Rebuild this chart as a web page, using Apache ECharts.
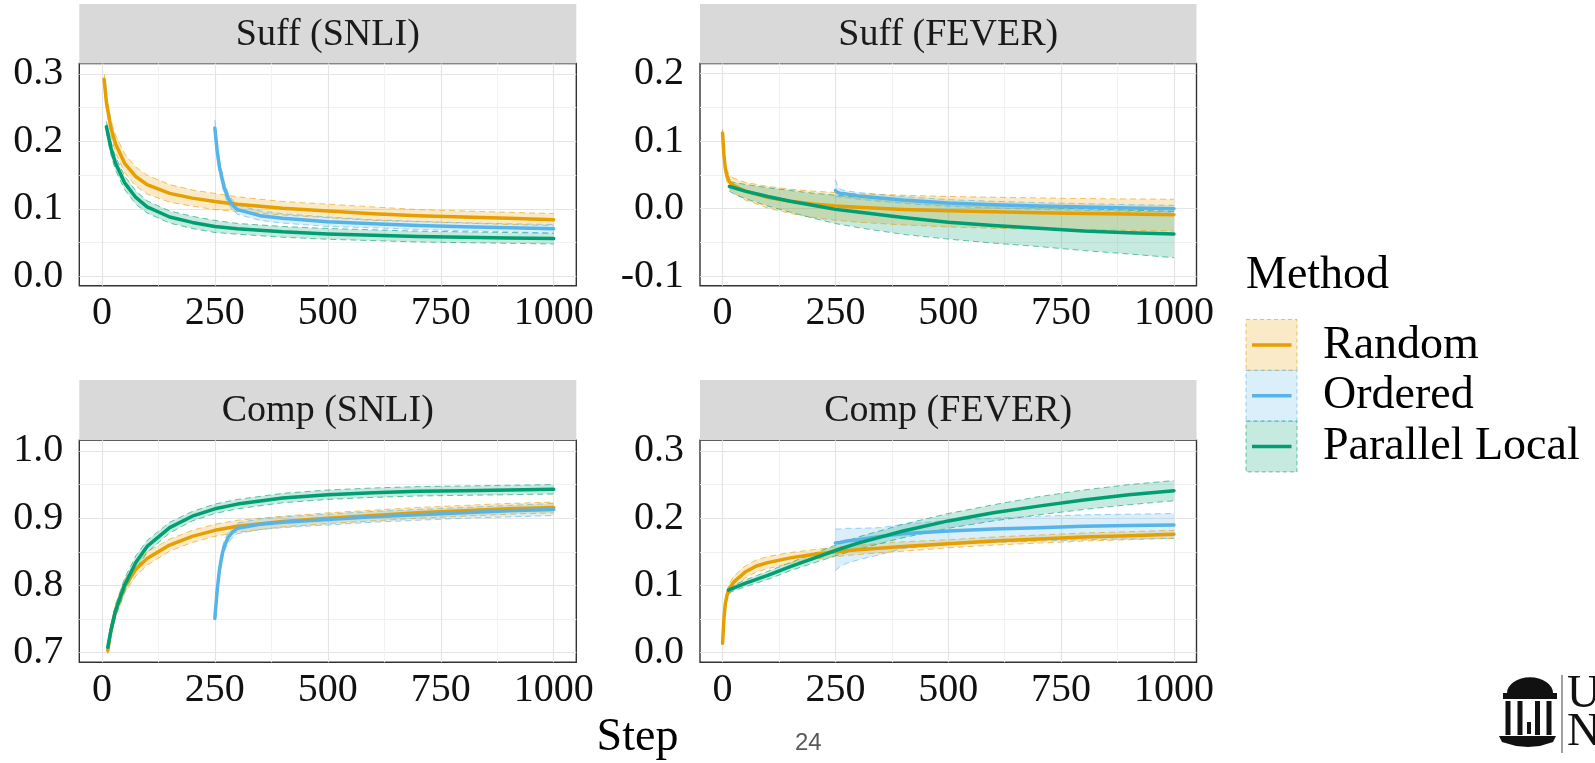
<!DOCTYPE html>
<html><head><meta charset="utf-8">
<script src="https://cdn.jsdelivr.net/npm/echarts@6/dist/echarts.min.js"></script>
<style>html,body{margin:0;padding:0;background:#fff}#c{width:1595px;height:763px}</style>
</head><body><div id="c"></div>
<script>
// ---------- tick labels ----------
const xTicks = [0, 250, 500, 750, 1000];
const xMinorTicks = [125, 375, 625, 875];
const suffSnliYTicks = [0, 0.1, 0.2, 0.3];
const suffSnliYMinor = [0.05, 0.15, 0.25];
const suffFeverYTicks = [-0.1, 0, 0.1, 0.2];
const suffFeverYMinor = [-0.05, 0.05, 0.15];
const compSnliYTicks = [0.7, 0.8, 0.9, 1.0];
const compSnliYMinor = [0.75, 0.85, 0.95];
const compFeverYTicks = [0, 0.1, 0.2, 0.3];
const compFeverYMinor = [0.05, 0.15, 0.25];
const methods = ['Random', 'Ordered', 'Parallel Local'];
const panelTitles = ['Suff (SNLI)', 'Suff (FEVER)', 'Comp (SNLI)', 'Comp (FEVER)'];

// ---------- Suff (SNLI) ----------
const suffSnliRandomSteps = [5,10,20,30,50,75,100,150,200,250,300,400,500,600,700,800,900,1000];
const suffSnliRandomMean  = [0.292,0.258,0.220,0.197,0.168,0.148,0.136,0.123,0.116,0.111,0.107,0.101,0.097,0.093,0.090,0.088,0.086,0.084];
const suffSnliRandomUpper = [0.300,0.268,0.232,0.210,0.182,0.162,0.150,0.136,0.128,0.123,0.118,0.111,0.107,0.103,0.099,0.097,0.095,0.093];
const suffSnliRandomLower = [0.284,0.248,0.208,0.184,0.154,0.134,0.122,0.110,0.104,0.099,0.096,0.091,0.087,0.083,0.081,0.079,0.077,0.075];
const suffSnliOrderedSteps = [250,255,260,270,280,290,300,350,400,500,600,700,800,900,1000];
const suffSnliOrderedMean  = [0.220,0.187,0.163,0.133,0.115,0.105,0.099,0.090,0.086,0.081,0.078,0.0755,0.0735,0.072,0.0705];
const suffSnliOrderedUpper = [0.232,0.198,0.173,0.142,0.123,0.112,0.106,0.097,0.093,0.088,0.084,0.0815,0.0795,0.078,0.077];
const suffSnliOrderedLower = [0.208,0.176,0.153,0.124,0.107,0.098,0.092,0.083,0.079,0.074,0.072,0.0695,0.0675,0.066,0.064];
const suffSnliParallelSteps = [10,20,30,50,75,100,150,200,250,300,400,500,600,700,800,900,1000];
const suffSnliParallelMean  = [0.222,0.190,0.168,0.139,0.117,0.103,0.088,0.080,0.074,0.0705,0.066,0.063,0.061,0.059,0.058,0.057,0.056];
const suffSnliParallelUpper = [0.230,0.200,0.178,0.149,0.127,0.112,0.097,0.089,0.083,0.0785,0.074,0.071,0.069,0.067,0.066,0.065,0.064];
const suffSnliParallelLower = [0.214,0.180,0.158,0.129,0.107,0.094,0.079,0.071,0.065,0.0625,0.058,0.055,0.053,0.051,0.050,0.049,0.048];

// ---------- Suff (FEVER) ----------
const suffFeverRandomSteps = [0,3,6,10,15,25,50,100,150,200,250,300,400,500,600,700,800,900,1000];
const suffFeverRandomMean  = [0.112,0.080,0.060,0.048,0.040,0.034,0.026,0.017,0.011,0.007,0.004,0.002,-0.001,-0.003,-0.0045,-0.006,-0.007,-0.008,-0.009];
const suffFeverRandomUpper = [0.118,0.088,0.068,0.057,0.050,0.045,0.039,0.033,0.029,0.026,0.024,0.022,0.020,0.018,0.017,0.016,0.015,0.0145,0.014];
const suffFeverRandomLower = [0.106,0.072,0.052,0.039,0.030,0.023,0.013,0.001,-0.007,-0.013,-0.017,-0.020,-0.024,-0.027,-0.029,-0.0305,-0.031,-0.032,-0.033];
const suffFeverOrderedSteps = [250,255,260,270,300,350,400,500,600,700,800,900,1000];
const suffFeverOrderedMean  = [0.027,0.024,0.023,0.022,0.019,0.016,0.013,0.0085,0.006,0.004,0.0025,0.0012,0.000];
const suffFeverOrderedUpper = [0.043,0.033,0.029,0.027,0.024,0.021,0.018,0.0135,0.011,0.009,0.0075,0.006,0.005];
const suffFeverOrderedLower = [0.017,0.018,0.017,0.017,0.014,0.011,0.008,0.0035,0.001,-0.001,-0.0025,-0.0038,-0.005];
const suffFeverParallelSteps = [15,25,50,100,150,200,250,300,400,500,600,700,800,900,1000];
const suffFeverParallelMean  = [0.033,0.031,0.026,0.018,0.011,0.005,-0.001,-0.005,-0.013,-0.020,-0.025,-0.029,-0.033,-0.0355,-0.0375];
const suffFeverParallelUpper = [0.040,0.039,0.036,0.031,0.027,0.023,0.020,0.017,0.012,0.008,0.005,0.002,0.000,-0.002,-0.004];
const suffFeverParallelLower = [0.026,0.022,0.015,0.004,-0.005,-0.014,-0.022,-0.028,-0.038,-0.045,-0.051,-0.056,-0.062,-0.067,-0.0725];

// ---------- Comp (SNLI) ----------
const compSnliRandomSteps = [13,20,30,50,75,100,150,200,250,300,400,500,600,700,800,900,1000];
const compSnliRandomMean  = [0.703,0.733,0.762,0.798,0.824,0.840,0.860,0.873,0.882,0.888,0.895,0.900,0.904,0.908,0.911,0.914,0.916];
const compSnliRandomUpper = [0.708,0.741,0.771,0.808,0.834,0.850,0.869,0.882,0.891,0.897,0.903,0.908,0.912,0.916,0.919,0.922,0.924];
const compSnliRandomLower = [0.698,0.725,0.753,0.788,0.814,0.830,0.851,0.864,0.873,0.879,0.887,0.892,0.896,0.900,0.903,0.906,0.908];
const compSnliOrderedSteps = [250,255,260,265,270,280,290,300,350,400,500,600,700,800,900,1000];
const compSnliOrderedMean  = [0.751,0.792,0.822,0.842,0.857,0.872,0.880,0.885,0.891,0.894,0.898,0.902,0.905,0.908,0.911,0.913];
const compSnliOrderedUpper = [0.753,0.797,0.829,0.850,0.865,0.880,0.888,0.893,0.899,0.902,0.906,0.910,0.913,0.916,0.919,0.922];
const compSnliOrderedLower = [0.749,0.787,0.815,0.834,0.849,0.864,0.872,0.877,0.883,0.886,0.890,0.894,0.897,0.900,0.902,0.904];
const compSnliParallelSteps = [13,20,30,50,75,100,150,200,250,300,400,500,600,700,800,900,1000];
const compSnliParallelMean  = [0.708,0.733,0.762,0.800,0.834,0.858,0.886,0.903,0.914,0.921,0.930,0.935,0.938,0.940,0.941,0.942,0.943];
const compSnliParallelUpper = [0.714,0.741,0.771,0.810,0.844,0.867,0.894,0.910,0.921,0.928,0.937,0.942,0.945,0.947,0.948,0.949,0.950];
const compSnliParallelLower = [0.702,0.725,0.753,0.790,0.824,0.849,0.878,0.896,0.907,0.914,0.923,0.928,0.931,0.933,0.934,0.935,0.936];

// ---------- Comp (FEVER) ----------
const compFeverRandomSteps = [0,3,6,10,15,25,50,75,100,150,200,250,300,400,500,600,700,800,900,1000];
const compFeverRandomMean  = [0.014,0.050,0.072,0.086,0.095,0.105,0.120,0.129,0.134,0.141,0.146,0.150,0.153,0.158,0.162,0.166,0.169,0.172,0.174,0.176];
const compFeverRandomUpper = [0.016,0.055,0.078,0.093,0.103,0.114,0.129,0.138,0.143,0.149,0.153,0.157,0.160,0.165,0.168,0.172,0.175,0.178,0.180,0.182];
const compFeverRandomLower = [0.012,0.045,0.066,0.079,0.087,0.096,0.111,0.120,0.125,0.133,0.139,0.143,0.146,0.151,0.156,0.160,0.163,0.166,0.168,0.170];
const compFeverOrderedSteps = [250,260,275,300,350,400,500,600,700,800,900,1000];
const compFeverOrderedMean  = [0.163,0.164,0.166,0.168,0.173,0.177,0.181,0.184,0.186,0.188,0.189,0.190];
const compFeverOrderedUpper = [0.184,0.184,0.185,0.185,0.186,0.191,0.197,0.200,0.203,0.205,0.206,0.207];
const compFeverOrderedLower = [0.122,0.128,0.133,0.138,0.146,0.155,0.161,0.164,0.166,0.168,0.169,0.170];
const compFeverParallelSteps = [13,50,100,150,200,250,300,400,500,600,700,800,900,1000];
const compFeverParallelMean  = [0.093,0.103,0.115,0.128,0.140,0.152,0.163,0.181,0.196,0.208,0.218,0.227,0.235,0.241];
const compFeverParallelUpper = [0.097,0.108,0.121,0.134,0.147,0.160,0.172,0.191,0.207,0.220,0.232,0.242,0.250,0.256];
const compFeverParallelLower = [0.089,0.098,0.109,0.122,0.133,0.144,0.154,0.171,0.185,0.196,0.205,0.213,0.220,0.226];

// ---------- assembly ----------
const SERIF = '"Liberation Serif","Times New Roman",serif';
const lineColor = {'Random':'#E69F00','Ordered':'#56B4E9','Parallel Local':'#009E73'};
const bandColor = {'Random':'rgba(230,159,0,0.22)','Ordered':'rgba(86,180,233,0.22)','Parallel Local':'rgba(0,158,115,0.22)'};
const edgeColor = {'Random':'rgba(230,159,0,0.6)','Ordered':'rgba(86,180,233,0.6)','Parallel Local':'rgba(0,158,115,0.6)'};

const panelData = [
  {yTicks:suffSnliYTicks, yMinor:suffSnliYMinor, curves:[
    [suffSnliRandomSteps,suffSnliRandomMean,suffSnliRandomLower,suffSnliRandomUpper],
    [suffSnliOrderedSteps,suffSnliOrderedMean,suffSnliOrderedLower,suffSnliOrderedUpper],
    [suffSnliParallelSteps,suffSnliParallelMean,suffSnliParallelLower,suffSnliParallelUpper]]},
  {yTicks:suffFeverYTicks, yMinor:suffFeverYMinor, curves:[
    [suffFeverRandomSteps,suffFeverRandomMean,suffFeverRandomLower,suffFeverRandomUpper],
    [suffFeverOrderedSteps,suffFeverOrderedMean,suffFeverOrderedLower,suffFeverOrderedUpper],
    [suffFeverParallelSteps,suffFeverParallelMean,suffFeverParallelLower,suffFeverParallelUpper]]},
  {yTicks:compSnliYTicks, yMinor:compSnliYMinor, curves:[
    [compSnliRandomSteps,compSnliRandomMean,compSnliRandomLower,compSnliRandomUpper],
    [compSnliOrderedSteps,compSnliOrderedMean,compSnliOrderedLower,compSnliOrderedUpper],
    [compSnliParallelSteps,compSnliParallelMean,compSnliParallelLower,compSnliParallelUpper]]},
  {yTicks:compFeverYTicks, yMinor:compFeverYMinor, curves:[
    [compFeverRandomSteps,compFeverRandomMean,compFeverRandomLower,compFeverRandomUpper],
    [compFeverOrderedSteps,compFeverOrderedMean,compFeverOrderedLower,compFeverOrderedUpper],
    [compFeverParallelSteps,compFeverParallelMean,compFeverParallelLower,compFeverParallelUpper]]}
];

// layout (pixels)
const layout = [
  {left:79.3, top:63.5, width:497, height:222.2, yMin:-0.0138, yMax:0.3155, stripTop:4},
  {left:700,  top:63.5, width:496.5, height:222.2, yMin:-0.1140, yMax:0.2150, stripTop:4},
  {left:79.3, top:440.3, width:497, height:222, yMin:0.6857, yMax:1.0159, stripTop:380},
  {left:700,  top:440.3, width:496.5, height:222, yMin:-0.0143, yMax:0.3159, stripTop:380}
];

const grids = [], xAxes = [], yAxes = [], series = [], graphics = [];
const tickFont = {fontFamily:SERIF, fontSize:40, color:'#111111'};

layout.forEach((L, i) => {
  const P = panelData[i];
  grids.push({left:L.left, top:L.top, width:L.width, height:L.height, show:true,
    borderColor:'#333333', borderWidth:1.4, backgroundColor:'#ffffff', containLabel:false});
  xAxes.push({gridIndex:i, type:'value', min:-50, max:1050, position:'bottom',
    axisLine:{show:false}, axisTick:{show:false, customValues:xTicks},
    axisLabel:Object.assign({customValues:xTicks, margin:8, formatter:v=>String(v)}, tickFont),
    splitLine:{show:true, lineStyle:{color:'#E4E4E4', width:1.2}}});
  xAxes.push({gridIndex:i, type:'value', min:-50, max:1050, position:'top',
    axisLine:{show:false}, axisTick:{show:false, customValues:xMinorTicks},
    axisLabel:{show:false, customValues:xMinorTicks},
    splitLine:{show:true, lineStyle:{color:'#F1F1F1', width:1}}});
  yAxes.push({gridIndex:i, type:'value', min:L.yMin, max:L.yMax, position:'left',
    axisLine:{show:false}, axisTick:{show:false, customValues:P.yTicks},
    axisLabel:Object.assign({customValues:P.yTicks, margin:16, formatter:v=>v.toFixed(1)}, tickFont),
    splitLine:{show:true, lineStyle:{color:'#E4E4E4', width:1.2}}});
  yAxes.push({gridIndex:i, type:'value', min:L.yMin, max:L.yMax, position:'right',
    axisLine:{show:false}, axisTick:{show:false, customValues:P.yMinor},
    axisLabel:{show:false, customValues:P.yMinor},
    splitLine:{show:true, lineStyle:{color:'#F1F1F1', width:1}}});

  P.curves.forEach((c, m) => {
    const name = methods[m];
    const [steps, mean, lower, upper] = c;
    series.push({
      type:'custom', name:name, xAxisIndex:2*i, yAxisIndex:2*i, z:1, silent:true, clip:true,
      data: steps.map((s,k)=>[s, lower[k], upper[k]]),
      encode:{x:0, y:[1,2]},
      renderItem: function(params, api){
        if (params.dataIndex !== 0) return null;
        const pts = [];
        for (let k=0;k<steps.length;k++) pts.push(api.coord([steps[k], upper[k]]));
        for (let k=steps.length-1;k>=0;k--) pts.push(api.coord([steps[k], lower[k]]));
        return {type:'polygon', shape:{points:pts}, style:{fill:bandColor[name]}};
      }
    });
    [lower, upper].forEach(edge => {
      series.push({type:'line', xAxisIndex:2*i, yAxisIndex:2*i, z:2, silent:true,
        showSymbol:false, symbol:'none', smooth:false,
        data: steps.map((s,k)=>[s, edge[k]]),
        lineStyle:{color:edgeColor[name], width:1, type:[6,4]}});
    });
  });
  P.curves.forEach((c, m) => {
    const name = methods[m];
    const [steps, mean] = c;
    series.push({type:'line', name:name, xAxisIndex:2*i, yAxisIndex:2*i, z:3+m, silent:true,
      showSymbol:false, symbol:'none', smooth:false,
      data: steps.map((s,k)=>[s, mean[k]]),
      lineStyle:{color:lineColor[name], width:3.5, join:'round', cap:'round'}});
  });

  // facet strip
  graphics.push({type:'rect', shape:{x:L.left, y:L.stripTop, width:L.width, height:L.top-L.stripTop},
    style:{fill:'#D9D9D9'}, z:0});
  graphics.push({type:'text', x:L.left+L.width/2, y:L.stripTop+(L.top-L.stripTop)/2+1,
    style:{text:panelTitles[i], font:'38px '+SERIF, fill:'#1A1A1A', align:'center', verticalAlign:'middle'}});
});

// legend
graphics.push({type:'text', x:1246, y:276, style:{text:'Method', font:'46px '+SERIF, fill:'#000', align:'left', verticalAlign:'middle'}});
const keyTops = [319.5, 370.3, 421.1];
methods.forEach((name, m) => {
  const y0 = keyTops[m];
  graphics.push({type:'rect', shape:{x:1246, y:y0, width:51, height:50.8},
    style:{fill:bandColor[name], stroke:edgeColor[name], lineWidth:1, lineDash:[4,3]}});
  graphics.push({type:'line', shape:{x1:1252, y1:y0+25.4, x2:1291.5, y2:y0+25.4},
    style:{stroke:lineColor[name], lineWidth:3.5}});
  graphics.push({type:'text', x:1323, y:y0+26, style:{text:name, font:'46px '+SERIF, fill:'#000', align:'left', verticalAlign:'middle'}});
});

// axis title & page number
graphics.push({type:'text', x:637.5, y:738, style:{text:'Step', font:'46px '+SERIF, fill:'#000', align:'center', verticalAlign:'middle'}});
graphics.push({type:'text', x:795, y:743, style:{text:'24', font:'24px "Liberation Sans",Arial,sans-serif', fill:'#595959', align:'left', verticalAlign:'middle'}});

// logo (decorative)
graphics.push({type:'sector', shape:{cx:1530, cy:693, r0:0, r:23, startAngle:Math.PI, endAngle:2*Math.PI},
  scaleY:0.68, originX:1530, originY:693, style:{fill:'#111'}});
graphics.push({type:'rect', shape:{x:1503, y:693, width:54, height:6}, style:{fill:'#111'}});
[1505.5, 1517.5, 1535, 1546.5].forEach(cx => {
  graphics.push({type:'rect', shape:{x:cx, y:701, width:5, height:34}, style:{fill:'#111'}});
});
graphics.push({type:'rect', shape:{x:1527, y:722, width:4, height:12}, style:{fill:'#111'}});
graphics.push({type:'polygon', shape:{points:[[1499,736],[1556,736],[1553,742],[1540,746],[1528,747],[1516,746],[1502,742]]}, style:{fill:'#111'}});
graphics.push({type:'line', shape:{x1:1562, y1:675, x2:1562, y2:753}, style:{stroke:'#444', lineWidth:1}});
graphics.push({type:'text', x:1567, y:695, style:{text:'U', font:'46px '+SERIF, fill:'#111', align:'left', verticalAlign:'middle'}});
graphics.push({type:'text', x:1567, y:733, style:{text:'N', font:'46px '+SERIF, fill:'#111', align:'left', verticalAlign:'middle'}});

const chart = echarts.init(document.getElementById('c'), null, {renderer:'canvas', width:1595, height:763});
chart.setOption({
  animation:false,
  backgroundColor:'#ffffff',
  grid:grids, xAxis:xAxes, yAxis:yAxes, series:series,
  graphic:{elements:graphics}
});
</script>
</body></html>
